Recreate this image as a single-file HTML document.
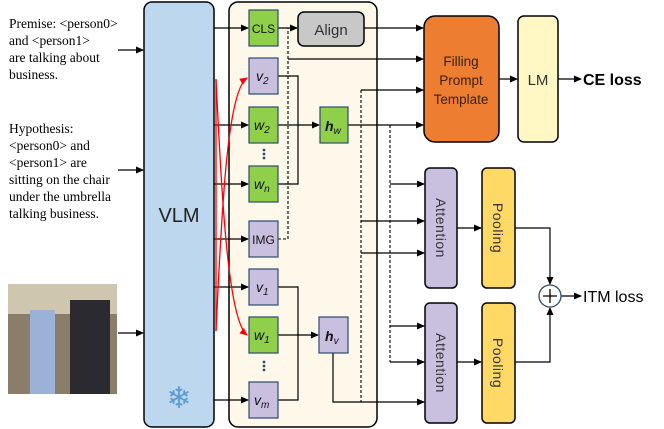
<!DOCTYPE html>
<html><head><meta charset="utf-8"><style>body{margin:0;background:#fff}svg{display:block}</style></head><body>
<svg width="664" height="429" viewBox="0 0 664 429" xmlns="http://www.w3.org/2000/svg" font-family="Liberation Sans, sans-serif">
<defs>
<marker id="a" markerWidth="8" markerHeight="8" refX="7" refY="4" orient="auto" markerUnits="userSpaceOnUse"><path d="M0,0.5 L8,4 L0,7.5z" fill="#000"/></marker>
<marker id="r" markerWidth="8" markerHeight="8" refX="7" refY="4" orient="auto" markerUnits="userSpaceOnUse"><path d="M0,0.5 L8,4 L0,7.5z" fill="red"/></marker>
</defs>
<g font-family="Liberation Serif, serif" font-size="13.5" fill="#000">
<text x="9" y="28">Premise: &lt;person0&gt;</text><text x="9" y="45">and &lt;person1&gt;</text><text x="9" y="62">are talking about</text><text x="9" y="79">business.</text>
<text x="9" y="133">Hypothesis:</text><text x="9" y="150">&lt;person0&gt; and</text><text x="9" y="167">&lt;person1&gt; are</text><text x="9" y="184">sitting on the chair</text><text x="9" y="201">under the umbrella</text><text x="9" y="218">talking business.</text>
</g>
<rect x="8" y="284" width="109" height="110" fill="#8a7d6a"/>
<rect x="8" y="284" width="109" height="30" fill="#cfc6b0"/>
<rect x="30" y="310" width="25" height="84" fill="#9bb2d6"/>
<rect x="70" y="300" width="40" height="94" fill="#2a2a30"/>
<g stroke="#000" stroke-width="1.2" fill="none">
<line x1="118" y1="50" x2="143" y2="50" marker-end="url(#a)"/>
<line x1="118" y1="170" x2="143" y2="170" marker-end="url(#a)"/>
<line x1="118" y1="333" x2="143" y2="333" marker-end="url(#a)"/>
</g>
<rect x="144" y="2" width="70" height="425" rx="8" fill="#bdd7ee" stroke="#000" stroke-width="1.5"/>
<text x="179" y="222" font-size="20" text-anchor="middle" fill="#222">VLM</text>
<text x="179" y="408" font-size="30" text-anchor="middle" fill="#5b9bd5">❄</text>
<rect x="229" y="2" width="148" height="425" rx="9" fill="#fdf8ea" stroke="#000" stroke-width="1.5"/>
<g stroke="#000" stroke-width="1.2" fill="none">
<line x1="214" y1="28" x2="248" y2="28" marker-end="url(#a)"/>
<line x1="214" y1="125" x2="248" y2="125" marker-end="url(#a)"/>
<line x1="214" y1="184" x2="248" y2="184" marker-end="url(#a)"/>
<line x1="214" y1="239" x2="248" y2="239" marker-end="url(#a)"/>
<line x1="214" y1="287" x2="248" y2="287" marker-end="url(#a)"/>
<line x1="214" y1="400" x2="248" y2="400" marker-end="url(#a)"/>
<polyline points="278,76 298,76 298,184 278,184"/>
<line x1="278" y1="125" x2="319" y2="125" marker-end="url(#a)"/>
<polyline points="278,287 298,287 298,400 278,400"/>
<line x1="278" y1="335" x2="318" y2="335" marker-end="url(#a)"/>
<line x1="278" y1="28" x2="297" y2="28" marker-end="url(#a)"/>
<line x1="364" y1="28" x2="423" y2="28" marker-end="url(#a)"/>
<line x1="288" y1="59" x2="423" y2="59" marker-end="url(#a)"/>
<line x1="361" y1="90" x2="423" y2="90" marker-end="url(#a)"/>
<line x1="348" y1="125" x2="423" y2="125" marker-end="url(#a)"/>
<line x1="390" y1="184" x2="424" y2="184" marker-end="url(#a)"/>
<line x1="361" y1="221" x2="424" y2="221" marker-end="url(#a)"/>
<line x1="361" y1="253" x2="424" y2="253" marker-end="url(#a)"/>
<line x1="390" y1="326" x2="424" y2="326" marker-end="url(#a)"/>
<line x1="390" y1="362" x2="424" y2="362" marker-end="url(#a)"/>
<polyline points="333,353 333,402 424,402" marker-end="url(#a)"/>
<line x1="457" y1="228" x2="481" y2="228" marker-end="url(#a)"/>
<line x1="457" y1="362" x2="481" y2="362" marker-end="url(#a)"/>
<polyline points="515,228 550,228 550,284" marker-end="url(#a)"/>
<polyline points="515,362 550,362 550,308" marker-end="url(#a)"/>
<line x1="561" y1="296" x2="581" y2="296" marker-end="url(#a)"/>
<line x1="499" y1="79" x2="517" y2="79" marker-end="url(#a)"/>
<line x1="558" y1="79" x2="581" y2="79" marker-end="url(#a)"/>
</g>
<g stroke="#000" stroke-width="1.1" fill="none" stroke-dasharray="3,2">
<polyline points="278,239 288,239 288,28"/>
<line x1="361" y1="90" x2="361" y2="402"/>
<line x1="390" y1="125" x2="390" y2="362"/>
</g>
<g stroke="red" stroke-width="1.3" fill="none">
<line x1="216" y1="79" x2="216" y2="331"/>
<path d="M216,331 C222,200 228,90 247,78" marker-end="url(#r)"/>
<path d="M216,80 C222,200 228,320 247,335" marker-end="url(#r)"/>
</g>
<g stroke="#2f4a6b" stroke-width="1.2">
<rect x="249" y="10" width="29" height="36" fill="#8fcf4a"/>
<rect x="249" y="58" width="29" height="36" fill="#c9c0e0"/>
<rect x="249" y="107" width="29" height="36" fill="#8fcf4a"/>
<rect x="249" y="166" width="29" height="36" fill="#8fcf4a"/>
<rect x="249" y="221" width="29" height="36" fill="#c9c0e0"/>
<rect x="249" y="269" width="29" height="36" fill="#c9c0e0"/>
<rect x="249" y="317" width="29" height="36" fill="#8fcf4a"/>
<rect x="249" y="382" width="29" height="36" fill="#c9c0e0"/>
<rect x="320" y="107" width="28" height="36" fill="#8fcf4a"/>
<rect x="319" y="317" width="29" height="36" fill="#c9c0e0"/>
</g>
<g fill="#2f4a6b"><circle cx="264" cy="150" r="1.4"/><circle cx="264" cy="154" r="1.4"/><circle cx="264" cy="158" r="1.4"/><circle cx="264" cy="362" r="1.4"/><circle cx="264" cy="366" r="1.4"/><circle cx="264" cy="370" r="1.4"/></g>
<g font-size="12" fill="#111" text-anchor="middle">
<text x="263.5" y="33">CLS</text><text x="263.5" y="244">IMG</text>
</g>
<g font-size="14" font-style="italic" fill="#111">
<text x="256" y="81">v<tspan font-size="10" dy="3">2</tspan></text>
<text x="254" y="130">w<tspan font-size="10" dy="3">2</tspan></text>
<text x="254" y="189">w<tspan font-size="10" dy="3">n</tspan></text>
<text x="256" y="292">v<tspan font-size="10" dy="3">1</tspan></text>
<text x="254" y="340">w<tspan font-size="10" dy="3">1</tspan></text>
<text x="254" y="405">v<tspan font-size="10" dy="3">m</tspan></text>
<text x="325" y="131" font-weight="bold">h<tspan font-size="10" dy="3" font-weight="normal">w</tspan></text>
<text x="325" y="341" font-weight="bold">h<tspan font-size="10" dy="3" font-weight="normal">v</tspan></text>
</g>
<rect x="298" y="12" width="66" height="34" rx="6" fill="#c8c8c8" stroke="#000" stroke-width="1.5"/>
<text x="331" y="35" font-size="15" text-anchor="middle" fill="#333">Align</text>
<rect x="424" y="16" width="75" height="126" rx="11" fill="#ed7d31" stroke="#000" stroke-width="1.5"/>
<g font-size="13.5" text-anchor="middle" fill="#3a2010"><text x="461" y="66">Filling</text><text x="461" y="85">Prompt</text><text x="461" y="104">Template</text></g>
<rect x="518" y="16" width="40" height="126" rx="6" fill="#fff8c4" stroke="#000" stroke-width="1.5"/>
<text x="538" y="85" font-size="15" text-anchor="middle" fill="#333">LM</text>
<text x="583" y="85" font-size="16" font-weight="bold" fill="#000">CE loss</text>
<rect x="425" y="168" width="32" height="120" rx="5" fill="#c9c0e0" stroke="#000" stroke-width="1.5"/>
<rect x="482" y="168" width="33" height="120" rx="5" fill="#ffd966" stroke="#000" stroke-width="1.5"/>
<rect x="425" y="303" width="32" height="120" rx="5" fill="#c9c0e0" stroke="#000" stroke-width="1.5"/>
<rect x="482" y="303" width="33" height="120" rx="5" fill="#ffd966" stroke="#000" stroke-width="1.5"/>
<g font-size="14" fill="#333" text-anchor="middle" letter-spacing="0.5">
<text transform="translate(436,228) rotate(90)">Attention</text>
<text transform="translate(493,228) rotate(90)">Pooling</text>
<text transform="translate(436,363) rotate(90)">Attention</text>
<text transform="translate(493,363) rotate(90)">Pooling</text>
</g>
<circle cx="550" cy="296" r="11" fill="#fff" stroke="#2f4a6b" stroke-width="1.3"/>
<path d="M543,296 H557 M550,289 V303" stroke="#000" stroke-width="1.3"/>
<text x="583" y="302" font-size="16" fill="#000">ITM loss</text>
</svg>
</body></html>
